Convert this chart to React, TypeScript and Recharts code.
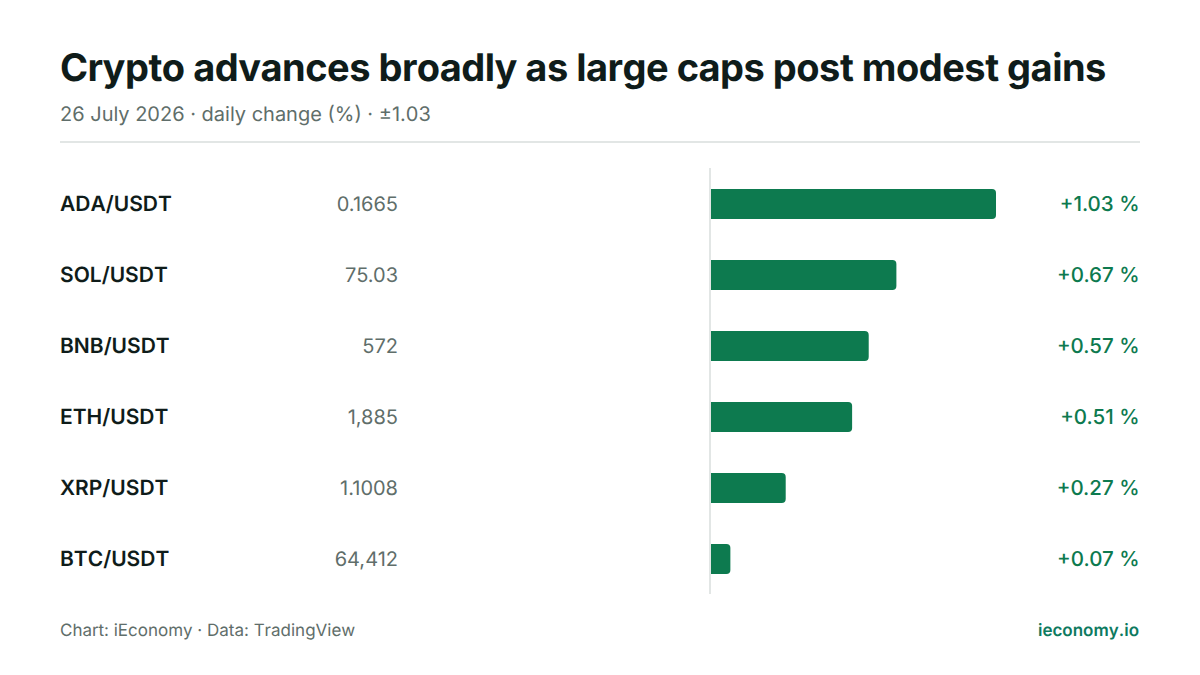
import { Bar, BarChart, LabelList, ReferenceLine, XAxis, YAxis } from 'recharts';

const PAIRS = ['ADA/USDT', 'SOL/USDT', 'BNB/USDT', 'ETH/USDT', 'XRP/USDT', 'BTC/USDT'];
const PRICES = ['0.1665', '75.03', '572', '1,885', '1.1008', '64,412'];
const CHANGES = [1.03, 0.67, 0.57, 0.51, 0.27, 0.07];

const data = PAIRS.map((pair, i) => ({ pair, price: PRICES[i], change: CHANGES[i] }));

const FONT = 'Inter, sans-serif';
const GREEN = '#0d7a4f';
const INK = '#0f1c1a';
const MUTED = '#5f6e6a';
const RULE = '#e2e6e5';

// Pair name on the left, last price right-aligned in its own column.
function RowTick({ y, payload, index }: any) {
  return (
    <g>
      <text x={60} y={y} dy={7.7} fontFamily={FONT} fontSize={21} fontWeight={600} fill={INK}>
        {payload.value}
      </text>
      <text
        x={398}
        y={y}
        dy={7}
        textAnchor="end"
        fontFamily={FONT}
        fontSize={20}
        fill={MUTED}
        style={{ fontKerning: 'normal' }}
      >
        {PRICES[index]}
      </text>
    </g>
  );
}

function ChangeLabel({ y, height, value }: any) {
  return (
    <text
      x={1139.5}
      y={y + height / 2}
      dy={7}
      textAnchor="end"
      fontFamily={FONT}
      fontSize={20.5}
      fontWeight={500}
      fill={GREEN}
      style={{ fontKerning: 'normal' }}
    >
      {`+${value.toFixed(2)} %`}
    </text>
  );
}

// Baseline sits just left of the bars, they don't overlap it.
function Baseline({ x1, y1, y2 }: any) {
  return <line x1={x1 - 1} x2={x1 - 1} y1={y1} y2={y2} stroke={RULE} strokeWidth={2} />;
}

export default function App() {
  return (
    <div
      style={{
        position: 'absolute',
        left: 0,
        top: 0,
        width: 1200,
        height: 675,
        background: '#fff',
        fontFamily: FONT,
        textRendering: 'geometricPrecision',
        fontKerning: 'none',
      }}
    >
      <BarChart
        width={1200}
        height={675}
        data={data}
        layout="vertical"
        barSize={30}
        margin={{ top: 168, right: 204, bottom: 81, left: 60 }}
      >
        <XAxis type="number" domain={[0, 1.03]} hide />
        <YAxis
          type="category"
          dataKey="pair"
          width={651}
          tick={<RowTick />}
          tickLine={false}
          axisLine={false}
        />
        <ReferenceLine x={0} shape={<Baseline />} />
        <Bar dataKey="change" fill={GREEN} radius={[0, 4, 4, 0]} isAnimationActive={false}>
          <LabelList dataKey="change" content={<ChangeLabel />} />
        </Bar>
      </BarChart>

      <div
        style={{
          position: 'absolute',
          left: 60,
          top: 44,
          fontSize: 38,
          fontWeight: 700,
          letterSpacing: -0.5,
          lineHeight: '48px',
          color: INK,
          whiteSpace: 'nowrap',
        }}
      >
        Crypto advances broadly as large caps post modest gains
      </div>
      <div
        style={{
          position: 'absolute',
          left: 60,
          top: 101,
          fontSize: 20,
          lineHeight: '26px',
          color: MUTED,
          whiteSpace: 'nowrap',
        }}
      >
        26 July 2026 · daily change (%) · ±1.03
      </div>
      <div style={{ position: 'absolute', left: 60, top: 141, width: 1080, height: 2, background: RULE }} />
      <div
        style={{
          position: 'absolute',
          left: 60,
          top: 620,
          fontSize: 17,
          lineHeight: '22px',
          color: MUTED,
          whiteSpace: 'nowrap',
        }}
      >
        Chart: iEconomy · Data: TradingView
      </div>
      <div
        style={{
          position: 'absolute',
          right: 61,
          top: 620,
          fontSize: 17,
          fontWeight: 600,
          lineHeight: '22px',
          color: '#0d7a5f',
          whiteSpace: 'nowrap',
        }}
      >
        ieconomy.io
      </div>
    </div>
  );
}
